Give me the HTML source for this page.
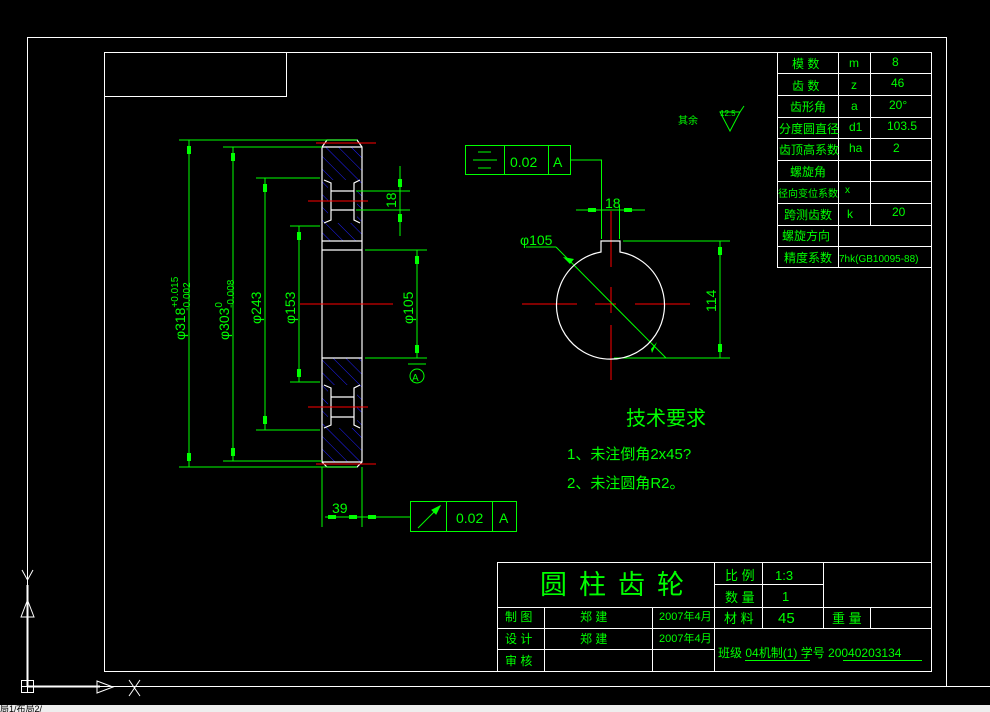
<!DOCTYPE html>
<html><head><meta charset="utf-8"><style>
html,body{margin:0;padding:0;background:#000;width:990px;height:712px;overflow:hidden}
svg{display:block}
text{font-family:"Liberation Sans","Noto Sans CJK SC",sans-serif;fill:#0f0}
</style></head><body>
<svg width="990" height="712" viewBox="0 0 990 712" xmlns="http://www.w3.org/2000/svg">
<defs>
<pattern id="h" width="9" height="9" patternUnits="userSpaceOnUse" patternTransform="rotate(-45)">
<line x1="0" y1="0" x2="0" y2="9" stroke="#2020ff" stroke-width="1"/>
</pattern>
</defs>
<g fill="none" stroke="#fff" stroke-width="1">
<rect x="27.5" y="37.5" width="919" height="649"/>
<rect x="104.5" y="52.5" width="827" height="619"/>
<rect x="104.5" y="52.5" width="182" height="44"/>
<line x1="946" y1="686.5" x2="990" y2="686.5"/>
</g>
<!-- UCS -->
<g stroke="#fff" fill="none" stroke-width="1">
<line x1="27.5" y1="585" x2="27.5" y2="686" stroke-width="2"/>
<line x1="27" y1="686.5" x2="100" y2="686.5" stroke-width="2"/>
<rect x="21.5" y="680.5" width="12" height="12"/><line x1="27.5" y1="680" x2="27.5" y2="693"/><line x1="21" y1="686.5" x2="34" y2="686.5"/>
<path d="M27.5 600 L21 617 L34 617 Z"/><path d="M97 681 L97 693 L113 687 Z"/>
<path d="M22 570 L27.5 580 L33 570 M27.5 580 L27.5 588"/>
<path d="M129 680 L140 696 M140 680 L129 696"/>
</g>
<rect x="0" y="705" width="990" height="7" fill="#eee"/>
<text x="0" y="712" font-size="9" style="fill:#000">局1/布局2/</text>

<g>
<rect x="322" y="147" width="40" height="94" fill="url(#h)"/>
<rect x="322" y="358" width="40" height="104" fill="url(#h)"/>
<rect x="328" y="180" width="29" height="43" fill="#000"/>
<rect x="328" y="385" width="29" height="43" fill="#000"/>
</g>
<g fill="none" stroke="#fff" stroke-width="1.2">
<path d="M322 147 L327 140 L357 140 L362 147 L362 462 L357 467 L327 467 L322 462 Z"/>
<line x1="322" y1="147" x2="362" y2="147"/><line x1="322" y1="462" x2="362" y2="462"/>
<line x1="322" y1="241" x2="362" y2="241"/><line x1="322" y1="250" x2="362" y2="250"/><line x1="322" y1="358" x2="362" y2="358"/>
<path d="M324 180 L331 183 L331 220 L324 223"/><path d="M360 180 L354 183 L354 220 L360 223"/>
<line x1="331" y1="191" x2="354" y2="191"/><line x1="331" y1="210" x2="354" y2="210"/>
<path d="M324 385 L331 388 L331 425 L324 428"/><path d="M360 385 L354 388 L354 425 L360 428"/>
<line x1="331" y1="397" x2="354" y2="397"/><line x1="331" y1="417" x2="354" y2="417"/>
</g>
<g stroke="#f00" stroke-width="1">
<line x1="316" y1="143" x2="376" y2="143"/><line x1="308" y1="201" x2="368" y2="201"/>
<line x1="300" y1="304" x2="393" y2="304"/><line x1="308" y1="407" x2="368" y2="407"/>
<line x1="316" y1="464" x2="376" y2="464"/>
<line x1="522" y1="304" x2="577" y2="304"/><line x1="595" y1="304" x2="616" y2="304"/><line x1="635" y1="304" x2="690" y2="304"/>
<line x1="611" y1="211" x2="611" y2="267"/><line x1="611" y1="287" x2="611" y2="313"/><line x1="611" y1="325" x2="611" y2="380"/>
</g>
<g stroke="#0f0" stroke-width="1" fill="none">
<line x1="179" y1="140" x2="357" y2="140"/><line x1="179" y1="467" x2="357" y2="467"/>
<line x1="223" y1="147" x2="322" y2="147"/><line x1="223" y1="461" x2="322" y2="461"/>
<line x1="256" y1="178" x2="320" y2="178"/><line x1="256" y1="430" x2="320" y2="430"/>
<line x1="290" y1="226" x2="320" y2="226"/><line x1="290" y1="382" x2="320" y2="382"/>
<line x1="189" y1="140" x2="189" y2="467"/><line x1="233" y1="147" x2="233" y2="461"/>
<line x1="265" y1="178" x2="265" y2="430"/><line x1="299" y1="226" x2="299" y2="382"/>
<line x1="365" y1="250" x2="427" y2="250"/><line x1="365" y1="358" x2="427" y2="358"/>
<line x1="417" y1="250" x2="417" y2="358"/><line x1="408" y1="364" x2="426" y2="364"/>
<circle cx="417" cy="376" r="7"/>
<line x1="356" y1="191" x2="410" y2="191"/><line x1="356" y1="210" x2="410" y2="210"/>
<line x1="400" y1="166" x2="400" y2="236"/>
<line x1="322" y1="467" x2="322" y2="527"/><line x1="362" y1="467" x2="362" y2="527"/>
<line x1="325" y1="517" x2="410" y2="517"/>
<rect x="410.5" y="501.5" width="106" height="30"/><line x1="446.5" y1="501" x2="446.5" y2="531"/><line x1="492.5" y1="501" x2="492.5" y2="531"/>
<line x1="418" y1="528" x2="440" y2="506"/><path d="M440 506 L432 510 L436 514 Z" fill="#0f0"/>
<rect x="465.5" y="145.5" width="105" height="29"/><line x1="504.5" y1="145" x2="504.5" y2="175"/><line x1="548.5" y1="145" x2="548.5" y2="175"/>
<line x1="478" y1="152" x2="491" y2="152"/><line x1="473" y1="160" x2="497" y2="160"/><line x1="478" y1="168" x2="491" y2="168"/>
<path d="M571 160 L601.5 160 L601.5 239"/><line x1="619.5" y1="205" x2="619.5" y2="239"/>
<line x1="576" y1="210" x2="645" y2="210"/>
<line x1="623" y1="241" x2="730" y2="241"/><line x1="614" y1="358" x2="730" y2="358"/>
<line x1="720" y1="241" x2="720" y2="358"/>
<line x1="526" y1="247" x2="556" y2="247"/><line x1="556" y1="247" x2="666" y2="358"/>
<path d="M720 112 L740 112 L730 131 Z M740 112 L744 106"/>
</g>
<g fill="#0f0">
<rect x="187" y="146" width="4" height="8"/><rect x="187" y="453" width="4" height="8"/>
<rect x="231" y="153" width="4" height="8"/><rect x="231" y="448" width="4" height="8"/>
<rect x="263" y="184" width="4" height="8"/><rect x="263" y="416" width="4" height="8"/>
<rect x="297" y="232" width="4" height="8"/><rect x="297" y="369" width="4" height="8"/>
<rect x="415" y="256" width="4" height="8"/><rect x="415" y="345" width="4" height="8"/>
<rect x="398" y="179" width="4" height="8"/><rect x="398" y="214" width="4" height="8"/>
<rect x="328" y="515" width="8" height="4"/><rect x="349" y="515" width="8" height="4"/><rect x="368" y="515" width="8" height="4"/>
<rect x="588" y="208" width="8" height="4"/><rect x="624" y="208" width="8" height="4"/>
<rect x="718" y="247" width="4" height="8"/><rect x="718" y="344" width="4" height="8"/>
<path d="M563 257 L570 264 L574 259 Z M651 349 L657 342 L652 353 Z"/>
</g>
<path d="M601 241 L620 241 L620 252 A54 54 0 1 1 601 252 Z" fill="none" stroke="#fff" stroke-width="1.2"/>

<g font-size="14">
<text transform="translate(185,340) rotate(-90)">φ318<tspan font-size="10" dy="-7">+0.015</tspan><tspan font-size="10" dx="-34" dy="12">-0.002</tspan></text>
<text transform="translate(229,340) rotate(-90)">φ303<tspan font-size="10" dy="-7">0</tspan><tspan font-size="10" dx="-6" dy="12">-0.008</tspan></text>
<text transform="translate(261,324) rotate(-90)">φ243</text>
<text transform="translate(295,324) rotate(-90)">φ153</text>
<text transform="translate(413,324) rotate(-90)">φ105</text>
<text transform="translate(396,208) rotate(-90)">18</text>
<text transform="translate(716,312) rotate(-90)">114</text>
<text x="412" y="381" font-size="10">A</text>
<text x="332" y="513">39</text>
<text x="456" y="523">0.02</text><text x="499" y="523">A</text>
<text x="510" y="167">0.02</text><text x="553" y="167">A</text>
<text x="605" y="208">18</text>
<text x="520" y="245">φ105</text>
<text x="678" y="124" font-size="10">其余</text>
<text x="720" y="116" font-size="8">12.5</text>
<text x="626" y="425" font-size="20">技术要求</text>
<text x="567" y="459" font-size="15">1、未注倒角2x45?</text>
<text x="567" y="488" font-size="15">2、未注圆角R2。</text>
</g>

<g stroke="#fff" fill="none" stroke-width="1">
<rect x="777.5" y="52.5" width="154" height="215"/>
<line x1="838.5" y1="52" x2="838.5" y2="268"/>
<line x1="870.5" y1="52" x2="870.5" y2="225"/>
<line x1="777" y1="73.5" x2="931" y2="73.5"/><line x1="777" y1="95.5" x2="931" y2="95.5"/>
<line x1="777" y1="117.5" x2="931" y2="117.5"/><line x1="777" y1="138.5" x2="931" y2="138.5"/>
<line x1="777" y1="160.5" x2="931" y2="160.5"/><line x1="777" y1="181.5" x2="931" y2="181.5"/>
<line x1="777" y1="203.5" x2="931" y2="203.5"/><line x1="777" y1="225.5" x2="931" y2="225.5"/>
<line x1="777" y1="246.5" x2="931" y2="246.5"/>
</g>
<g font-size="12">
<text x="792" y="68">模 数</text><text x="849" y="67">m</text><text x="892" y="66">8</text>
<text x="792" y="90">齿 数</text><text x="851" y="89">z</text><text x="891" y="87">46</text>
<text x="790" y="111">齿形角</text><text x="851" y="110">a</text><text x="889" y="109">20°</text>
<text x="779" y="133">分度圆直径</text><text x="849" y="131">d1</text><text x="887" y="130">103.5</text>
<text x="779" y="154">齿顶高系数</text><text x="849" y="152">ha</text><text x="893" y="152">2</text>
<text x="790" y="176">螺旋角</text>
<text x="778" y="197" font-size="10">径向变位系数</text><text x="845" y="193" font-size="10">x</text>
<text x="784" y="219">跨测齿数</text><text x="847" y="218">k</text><text x="892" y="216">20</text>
<text x="782" y="240">螺旋方向</text>
<text x="784" y="262">精度系数</text><text x="839" y="262" font-size="10">7hk(GB10095-88)</text>
</g>

<g stroke="#fff" fill="none" stroke-width="1">
<rect x="497.5" y="562.5" width="434" height="109"/>
<line x1="497" y1="607.5" x2="931" y2="607.5"/>
<line x1="497" y1="628.5" x2="931" y2="628.5"/>
<line x1="497" y1="649.5" x2="714" y2="649.5"/>
<line x1="714.5" y1="562" x2="714.5" y2="671"/>
<line x1="544.5" y1="607" x2="544.5" y2="671"/><line x1="652.5" y1="607" x2="652.5" y2="671"/>
<line x1="762.5" y1="562" x2="762.5" y2="628"/><line x1="823.5" y1="562" x2="823.5" y2="628"/>
<line x1="870.5" y1="607" x2="870.5" y2="628"/>
<line x1="714" y1="584.5" x2="823" y2="584.5"/>
</g>
<g font-size="12">
<text x="540" y="594" font-size="27" letter-spacing="12">圆柱齿轮</text>
<text x="725" y="580" font-size="13">比 例</text><text x="775" y="580" font-size="13">1:3</text>
<text x="725" y="602" font-size="13">数 量</text><text x="782" y="601" font-size="13">1</text>
<text x="724" y="623" font-size="13">材 料</text><text x="778" y="623" font-size="15">45</text>
<text x="832" y="623" font-size="13">重 量</text>
<text x="505" y="621">制 图</text><text x="580" y="621">郑  建</text><text x="659" y="620" font-size="11">2007年4月</text>
<text x="505" y="643">设 计</text><text x="580" y="643">郑  建</text><text x="659" y="642" font-size="11">2007年4月</text>
<text x="505" y="665">审 核</text>
<text x="718" y="657">班级 <tspan>04机制(1)</tspan>  学号 <tspan>20040203134</tspan></text>
</g>
<g stroke="#0f0"><line x1="745" y1="660.5" x2="810" y2="660.5"/><line x1="843" y1="660.5" x2="922" y2="660.5"/></g>
</svg>
</body></html>
